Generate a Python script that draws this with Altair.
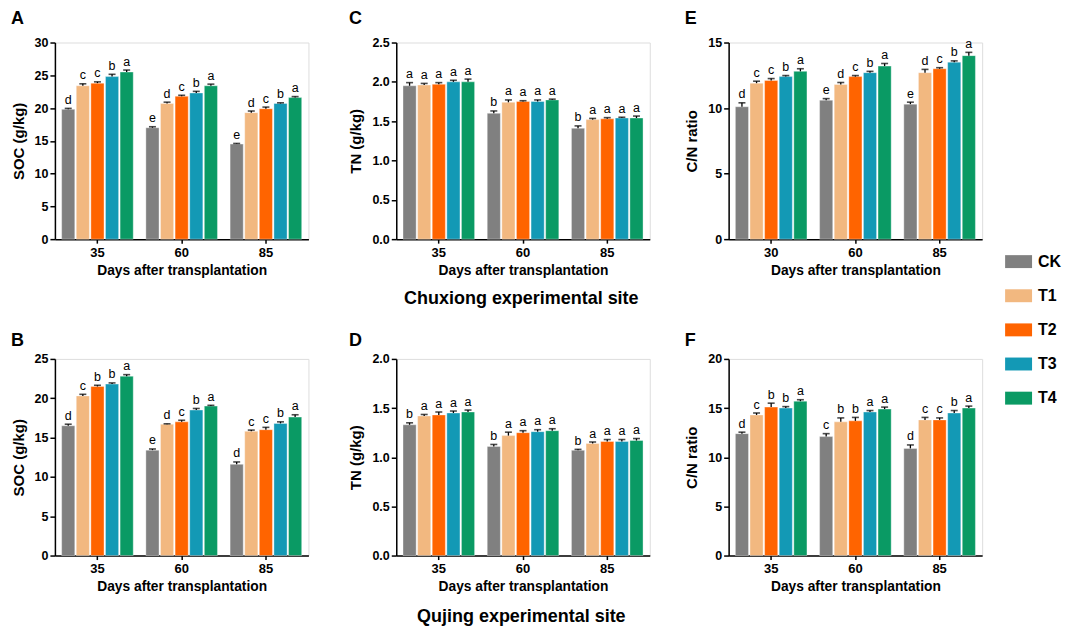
import altair as alt
import pandas as pd

FONT = "Liberation Sans"

treatments = ["CK", "T1", "T2", "T3", "T4"]
colors = ["#808080", "#F2B880", "#FF6400", "#1399B5", "#0A9A64"]
days_std = ["35", "60", "85"]
days_e = ["30", "60", "85"]

# Panel A: SOC, Chuxiong
soc_cx = [19.8, 23.4, 23.8, 24.8, 25.5,
          17.0, 20.7, 21.8, 22.3, 23.4,
          14.5, 19.3, 19.9, 20.7, 21.6]
soc_cx_err = [0.15, 0.3, 0.2, 0.35, 0.3,
              0.15, 0.2, 0.15, 0.25, 0.25,
              0.1, 0.25, 0.25, 0.1, 0.15]
soc_cx_let = ["d", "c", "c", "b", "a",
              "e", "d", "c", "b", "a",
              "e", "d", "c", "b", "a"]

# Panel C: TN, Chuxiong
tn_cx = [1.95, 1.96, 1.97, 2.00, 2.00,
         1.60, 1.74, 1.75, 1.75, 1.77,
         1.41, 1.52, 1.53, 1.54, 1.54]
tn_cx_err = [0.04, 0.02, 0.02, 0.02, 0.035,
             0.03, 0.03, 0.01, 0.02, 0.01,
             0.03, 0.015, 0.015, 0.01, 0.025]
tn_cx_let = ["a", "a", "a", "a", "a",
             "b", "a", "a", "a", "a",
             "b", "a", "a", "a", "a"]

# Panel E: C/N, Chuxiong
cn_cx = [10.1, 11.9, 12.1, 12.4, 12.8,
         10.6, 11.8, 12.4, 12.7, 13.2,
         10.3, 12.7, 13.0, 13.5, 14.0]
cn_cx_err = [0.3, 0.15, 0.15, 0.08, 0.2,
             0.12, 0.15, 0.08, 0.1, 0.2,
             0.15, 0.25, 0.08, 0.1, 0.25]
cn_cx_let = ["d", "c", "c", "b", "a",
             "e", "d", "c", "b", "a",
             "e", "d", "c", "b", "a"]

# Panel B: SOC, Qujing
soc_qj = [16.5, 20.3, 21.5, 21.8, 22.8,
          13.4, 16.7, 17.0, 18.5, 19.0,
          11.6, 15.8, 16.0, 16.8, 17.6]
soc_qj_err = [0.2, 0.2, 0.15, 0.15, 0.2,
              0.15, 0.05, 0.2, 0.2, 0.1,
              0.3, 0.15, 0.3, 0.2, 0.3]
soc_qj_let = ["d", "c", "b", "b", "a",
              "e", "d", "c", "b", "a",
              "d", "c", "c", "b", "a"]

# Panel D: TN, Qujing
tn_qj = [1.33, 1.42, 1.43, 1.45, 1.46,
         1.11, 1.22, 1.25, 1.26, 1.27,
         1.07, 1.14, 1.16, 1.16, 1.17]
tn_qj_err = [0.02, 0.015, 0.03, 0.02, 0.02,
             0.02, 0.035, 0.02, 0.02, 0.02,
             0.01, 0.015, 0.02, 0.02, 0.02]
tn_qj_let = ["b", "a", "a", "a", "a",
             "b", "a", "a", "a", "a",
             "b", "a", "a", "a", "a"]

# Panel F: C/N, Qujing
cn_qj = [12.4, 14.3, 15.1, 15.0, 15.7,
         12.1, 13.6, 13.7, 14.6, 14.9,
         10.9, 13.8, 13.8, 14.5, 15.0]
cn_qj_err = [0.15, 0.2, 0.4, 0.15, 0.15,
             0.3, 0.4, 0.35, 0.15, 0.2,
             0.35, 0.25, 0.2, 0.25, 0.2]
cn_qj_let = ["d", "c", "b", "b", "a",
             "c", "b", "b", "a", "a",
             "d", "c", "c", "b", "a"]

PW, PH = 254, 197


def panel(letter, days, vals, errs, lets, ytitle, ymax, ystep, fmt, toff):
    rows = []
    for i, d in enumerate(days):
        for j, t in enumerate(treatments):
            k = i * 5 + j
            rows.append(dict(day=d, trt=t, v=vals[k], top=vals[k] + errs[k], lab=lets[k]))
    df = pd.DataFrame(rows)
    ticks = []
    x = 0.0
    while x <= ymax + 1e-9:
        ticks.append(round(x, 3))
        x += ystep
    yaxis = alt.Axis(title=ytitle, values=ticks, format=fmt, grid=False,
                     domainColor="black", domainWidth=1.5, tickColor="black",
                     tickWidth=1.5, tickSize=5, labelPadding=2,
                     labelFont=FONT, labelFontSize=12.5, labelFontWeight="bold",
                     labelColor="black", titleFont=FONT, titleFontSize=15,
                     titleFontWeight="bold", titleColor="black", titlePadding=8)
    yscale = alt.Scale(domain=[0, ymax], nice=False, zero=True)
    xenc = alt.X("day:N", sort=days,
                 scale=alt.Scale(paddingInner=0.15, paddingOuter=0.08),
                 axis=alt.Axis(title="Days after transplantation", labelAngle=0,
                               domainColor="black", domainWidth=1.5,
                               tickColor="black", tickWidth=1.5, tickSize=4,
                               labelPadding=3, labelFont=FONT, labelFontSize=13,
                               labelFontWeight="bold", labelColor="black",
                               titleFont=FONT, titleFontSize=13.8,
                               titleFontWeight="bold", titleColor="black",
                               titlePadding=4))
    xoff = alt.XOffset("trt:N", sort=treatments, scale=alt.Scale(paddingInner=0.1))
    base = alt.Chart(df).encode(x=xenc, xOffset=xoff)
    bars = base.mark_bar(stroke="white", strokeWidth=0.8, strokeOpacity=0.45).encode(
        y=alt.Y("v:Q", scale=yscale, axis=yaxis),
        color=alt.Color("trt:N", sort=treatments,
                        scale=alt.Scale(domain=treatments, range=colors),
                        legend=alt.Legend(title=None, orient="none",
                                          legendX=952, legendY=206,
                                          symbolType="M-1,-0.48H1V0.48H-1Z",
                                          symbolSize=729, symbolStrokeWidth=0,
                                          symbolOpacity=1,
                                          labelFont=FONT, labelFontSize=16,
                                          labelFontWeight="bold",
                                          labelColor="black", rowPadding=12.2,
                                          labelOffset=6)),
    )
    err = base.mark_rule(color="black", strokeWidth=1.3).encode(
        y=alt.Y("v:Q", scale=yscale, axis=yaxis), y2="top:Q")
    cap = base.mark_tick(color="black", thickness=1.6, size=7).encode(
        y=alt.Y("top:Q", scale=yscale, axis=yaxis))
    txt = base.mark_text(baseline="bottom", dy=-1.5, font=FONT, fontSize=12.5,
                         fill="black", color="black").encode(
        y=alt.Y("top:Q", scale=yscale, axis=yaxis), text="lab:N")
    return alt.layer(bars, err, cap, txt).properties(
        width=PW, height=PH,
        title=alt.TitleParams(letter, anchor="start", font=FONT, fontSize=18,
                              fontWeight="bold", color="black", offset=toff))


pA = panel("A", days_std, soc_cx, soc_cx_err, soc_cx_let, "SOC (g/kg)", 30, 5, "d", 9)
pC = panel("C", days_std, tn_cx, tn_cx_err, tn_cx_let, "TN (g/kg)", 2.5, 0.5, ".1f", 9)
pE = panel("E", days_e, cn_cx, cn_cx_err, cn_cx_let, "C/N ratio", 15, 5, "d", 9)
pB = panel("B", days_std, soc_qj, soc_qj_err, soc_qj_let, "SOC (g/kg)", 25, 5, "d", 3)
pD = panel("D", days_std, tn_qj, tn_qj_err, tn_qj_let, "TN (g/kg)", 2.0, 0.5, ".1f", 3)
pF = panel("F", days_std, cn_qj, cn_qj_err, cn_qj_let, "C/N ratio", 20, 5, "d", 3)


def site(p, label, off):
    return alt.vconcat(p).properties(
        title=alt.TitleParams(label, orient="bottom", anchor="middle", font=FONT,
                              fontSize=18, fontWeight="bold", color="black",
                              offset=off, dx=22))


row1 = alt.hconcat(alt.hconcat(pA, site(pC, "Chuxiong experimental site", 13), spacing=39),
                   pE, spacing=33)
row2 = alt.hconcat(alt.hconcat(pB, site(pD, "Qujing experimental site", 14), spacing=39),
                   pF, spacing=33)

chart = alt.vconcat(row1, row2, spacing=22).resolve_scale(color="shared").properties(
    padding={"left": 2, "top": 0, "right": 0, "bottom": 0}
).configure_view(stroke=None).configure(background="white")

chart.save("out.html", embed_options={"renderer": "svg", "actions": False})
